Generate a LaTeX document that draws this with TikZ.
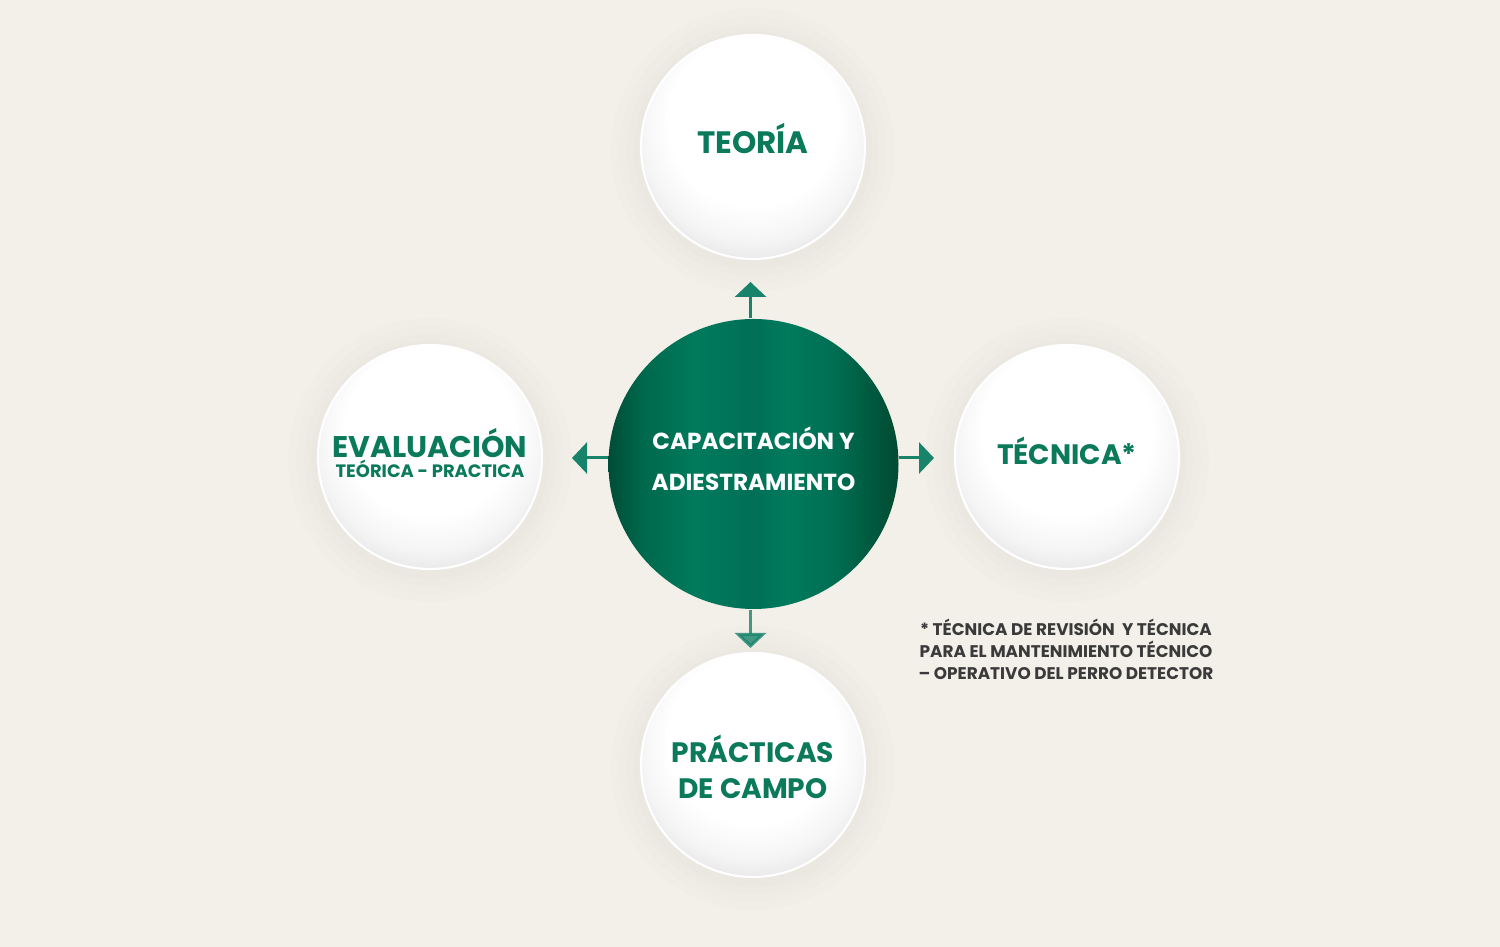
\documentclass[tikz,border=0pt]{standalone}
\usepackage{fontspec}
\setmainfont{Poppins}
\usetikzlibrary{arrows.meta}
\definecolor{fondo}{HTML}{F3F0EA}
\definecolor{verde}{HTML}{0A7A5A}
\definecolor{flechav}{HTML}{17836A}
\definecolor{gris}{HTML}{3A3A3A}
\definecolor{g1}{HTML}{004D35}
\definecolor{g2}{HTML}{00694C}
\definecolor{g3}{HTML}{007A5C}
\definecolor{g4}{HTML}{007056}
\definecolor{g5}{HTML}{007A5C}
\definecolor{g6}{HTML}{006E52}
\definecolor{g7}{HTML}{00573C}
\definecolor{g8}{HTML}{004A31}
\pgfdeclareradialshading{esfera}{\pgfpoint{0bp}{12bp}}{color(0bp)=(white); color(19bp)=(white); color(25bp)=(black!4); color(30.5bp)=(black!12); color(34.5bp)=(black!18); color(37bp)=(black!9)}
\pgfdeclarehorizontalshading{bola}{100bp}{color(0bp)=(g1); color(25bp)=(g1); color(31bp)=(g2); color(40bp)=(g3); color(50bp)=(g4); color(56bp)=(g5); color(64bp)=(g6); color(71bp)=(g7); color(75bp)=(g8); color(100bp)=(g8)}
\newcommand{\sube}[2]{\raisebox{#1}[\height][\depth]{#2}}
\tikzset{
  bolita/.style={circle, minimum size=2.24cm, inner sep=0pt, shading=esfera, draw=white, line width=0.6pt, text=verde, align=center, font={\fontsize{8}{10.2}\selectfont\bfseries}},
  centro/.style={circle, minimum size=2.9cm, inner sep=0pt, shading=bola, text=white, align=center, font={\fontsize{6.6}{11.6}\selectfont\bfseries}},
  flecha/.style={flechav, line width=0.85pt, -{Triangle[width=0.31cm, length=0.15cm]}},
  nota/.style={text=gris, align=center, font={\fontsize{4.8}{6.25}\selectfont\bfseries}}
}
\begin{document}
\begin{tikzpicture}
  \fill[fondo] (0,0) rectangle (15,9.47);
  % sombras suaves
  \foreach \x/\y in {7.53/8.00, 4.30/4.90, 10.67/4.90, 7.53/1.82}
    \foreach \r in {1.42,1.34,1.26,1.19}
      \fill[black, opacity=0.008] (\x,\y-0.03) circle (\r);
  \node[centro](cap) at (7.535,4.83){\sube{0.05cm}{CAPACITACIÓN Y}\\\sube{0.05cm}{ADIESTRAMIENTO}};
  \node[bolita](teoria) at (7.53,8.00){\sube{0.08cm}{\fontsize{8.8}{10}\selectfont TEORÍA}};
  \node[bolita](evaluacion) at (4.30,4.90){\sube{0.04cm}{\fontsize{8.5}{10}\selectfont EVALUACIÓN}\\[-0.15cm]\sube{0.04cm}{\fontsize{5.1}{6}\selectfont TEÓRICA - PRACTICA}};
  \node[bolita](tecnica) at (10.67,4.90){\sube{0.06cm}{TÉCNICA*}};
  \node[bolita](practicas) at (7.53,1.82){\sube{-0.02cm}{PRÁCTICAS}\\\sube{-0.02cm}{DE CAMPO}};
  \node[nota](asterisco) at (10.66,2.98){* TÉCNICA DE REVISIÓN \ Y TÉCNICA\\PARA EL MANTENIMIENTO TÉCNICO\\– OPERATIVO DEL PERRO DETECTOR};
  \coordinate (aN) at (7.505,6.65);
  \coordinate (aS) at (7.505,2.99);
  \coordinate (aW) at (5.72,4.89);
  \coordinate (aE) at (9.34,4.89);
  \draw[flecha] (aN |- cap.north) -- (aN);
  \draw[flecha, opacity=0.8] (aS |- cap.south) -- (aS);
  \draw[flecha] (cap.west |- aW) -- (aW);
  \draw[flecha] (cap.east |- aE) -- (aE);
\end{tikzpicture}
\end{document}
